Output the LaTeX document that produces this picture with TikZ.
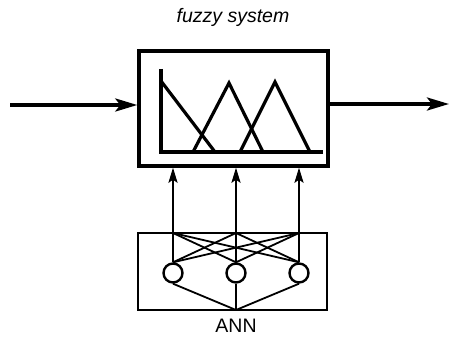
\documentclass[tikz,border=0pt]{standalone}
\usepackage{fontspec}
\setmainfont{Liberation Sans}
\usetikzlibrary{arrows.meta}
\begin{document}
\begin{tikzpicture}[x=1pt,y=-1pt,
  bigbox/.style={draw,line width=3.4pt,minimum width=189pt,minimum height=115pt,inner sep=0pt},
  annbox/.style={draw,line width=2.4pt,minimum width=189pt,minimum height=77pt,inner sep=0pt},
  neuron/.style={draw,circle,line width=2.4pt,minimum size=19pt,inner sep=0pt},
  mf/.style={line width=3.2pt,line join=miter},
  bigarrow/.style={line width=3.6pt,-{Stealth[length=22pt,width=13pt,inset=5pt]}},
  uparrow/.style={line width=2.4pt,-{Stealth[length=15pt,width=9pt,inset=3pt]}},
  link/.style={line width=1.8pt},
  lbl/.style={font=\fontsize{19.5}{22}\selectfont,inner sep=0pt}]
\useasboundingbox (0,0) rectangle (453,337);
\node[lbl,font=\fontsize{19.5}{22}\selectfont\itshape] (title) at (233,17) {fuzzy system};
\node[bigbox] (fs) at (233.5,108.5) {};
\node[annbox] (ann) at (232.5,271.5) {};
\node[lbl,anchor=north] (annlbl) at (236,319) {ANN};
% membership functions
\draw[mf] (161,69) -- (161,152) -- (323,152);
\draw[mf] (161,81) -- (215,152);
\draw[mf] (193,152) -- (229,83) -- (263,152);
\draw[mf] (240,152) -- (275,82) -- (310,152);
% input and output
\coordinate (in) at (10,105);
\coordinate (out) at (449,104);
\draw[bigarrow] (in) -- (in -| fs.west);
\draw[bigarrow] (fs.east |- out) -- (out);
% neurons
\node[neuron] (n1) at (173,273) {};
\node[neuron] (n2) at (236,273) {};
\node[neuron] (n3) at (299,273) {};
\coordinate (t1) at (173,233);
\coordinate (t2) at (236,233);
\coordinate (t3) at (299,233);
\coordinate (b) at (236,310);
\foreach \i in {1,2,3}{
  \foreach \j in {1,2,3}{
    \draw[link] (n\i.north) -- (t\j);
  }
  \draw[link] (n\i.south) -- (b);
  \draw[uparrow] (t\i) -- (t\i |- fs.south);
}
\end{tikzpicture}
\end{document}
